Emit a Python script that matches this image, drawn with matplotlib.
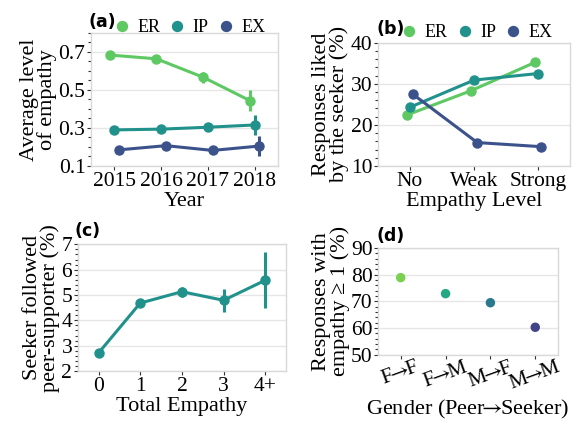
import matplotlib
matplotlib.use("Agg")
import matplotlib.pyplot as plt
import numpy as np
from matplotlib.ticker import AutoMinorLocator

# -------------------------------------------------
# Data
# -------------------------------------------------

years = ["2015", "2016", "2017", "2018"]
er_year = [0.684, 0.664, 0.567, 0.444]
er_year_err = [0.008, 0.01, 0.03, 0.055]
ip_year = [0.290, 0.294, 0.304, 0.316]
ip_year_err = [0.008, 0.01, 0.02, 0.052]
ex_year = [0.185, 0.207, 0.182, 0.205]
ex_year_err = [0.008, 0.01, 0.02, 0.052]

levels = ["No", "Weak", "Strong"]
er_liked = [22.4, 28.3, 35.2]
ip_liked = [24.3, 30.9, 32.5]
ex_liked = [27.4, 15.7, 14.7]

total_empathy = ["0", "1", "2", "3", "4+"]
followed = [2.71, 4.68, 5.13, 4.79, 5.58]
followed_err = [0.08, 0.1, 0.2, 0.45, 1.1]

ARROW = "$\\!\\!\\rightarrow\\!\\!$"
genders = ["F" + ARROW + "F", "F" + ARROW + "M", "M" + ARROW + "F", "M" + ARROW + "M"]
empathy_ge1 = [78.9, 72.9, 69.5, 60.3]

# viridis palettes (seaborn)
c_er, c_ip, c_ex = "#5ec962", "#21918c", "#3b528b"
gender_colors = ["#7ad151", "#22a884", "#2a788e", "#414487"]

plt.rcParams["font.family"] = ["Liberation Serif", "DejaVu Serif"]
plt.rcParams["mathtext.fontset"] = "stix"

TICK_FS = 15.5
LABEL_FS = 16
LW = 2.2
MS = 6.5


def style_axis(ax, minor=5):
    for side in ["top", "right", "left", "bottom"]:
        ax.spines[side].set_color("#d9d9d9")
        ax.spines[side].set_linewidth(1.0)
    ax.grid(True, axis="y", color="#e6e6e6", linewidth=1.0)
    ax.set_axisbelow(True)
    ax.yaxis.set_minor_locator(AutoMinorLocator(minor))
    ax.tick_params(axis="both", which="major", labelsize=TICK_FS, length=3,
                   width=0.8, color="#333333", pad=1)
    ax.tick_params(axis="y", which="minor", length=2, width=0.8, color="#333333")
    ax.tick_params(axis="x", which="minor", bottom=False)


def point_series(ax, xs, ys, errs, color, label=None):
    ax.plot(xs, ys, color=color, linewidth=LW, marker="o", markersize=MS,
            label=label, zorder=3)
    if errs is not None:
        ax.errorbar(xs, ys, yerr=errs, fmt="none", ecolor=color,
                    elinewidth=LW, capsize=0, zorder=3)


fig = plt.figure(figsize=(5.82, 4.24), dpi=100)

# -------------------------------------------------
# (a) Average level of empathy by year
# -------------------------------------------------

ax_a = fig.add_axes([0.1564, 0.6085, 0.3213, 0.3137])
xa = np.arange(len(years))
point_series(ax_a, xa - 0.1, er_year, er_year_err, c_er, "ER")
point_series(ax_a, xa, ip_year, ip_year_err, c_ip, "IP")
point_series(ax_a, xa + 0.1, ex_year, ex_year_err, c_ex, "EX")
ax_a.set_xlim(-0.5, 3.5)
ax_a.set_ylim(0.1, 0.8)
ax_a.set_yticks([0.1, 0.3, 0.5, 0.7])
ax_a.set_xticks(xa)
ax_a.set_xticklabels(years)
ax_a.set_xlabel("Year", fontsize=LABEL_FS, labelpad=1)
ax_a.set_ylabel("Average level\nof empathy", fontsize=LABEL_FS, labelpad=1,
                linespacing=0.9)
style_axis(ax_a, minor=4)

# -------------------------------------------------
# (b) Responses liked by the seeker
# -------------------------------------------------

ax_b = fig.add_axes([0.6495, 0.6085, 0.33, 0.2908])
xb = np.arange(len(levels))
point_series(ax_b, xb - 0.05, er_liked, None, c_er, "ER")
point_series(ax_b, xb, ip_liked, None, c_ip, "IP")
point_series(ax_b, xb + 0.05, ex_liked, None, c_ex, "EX")
ax_b.set_xlim(-0.5, 2.5)
ax_b.set_ylim(10, 40)
ax_b.set_yticks([10, 20, 30, 40])
ax_b.set_xticks(xb)
ax_b.set_xticklabels(levels)
ax_b.set_xlabel("Empathy Level", fontsize=LABEL_FS, labelpad=1)
ax_b.set_ylabel("Responses liked\nby the seeker (%)", fontsize=LABEL_FS,
                labelpad=1, linespacing=0.9)
style_axis(ax_b)

# -------------------------------------------------
# (c) Seeker followed peer-supporter
# -------------------------------------------------

ax_c = fig.add_axes([0.1335, 0.125, 0.358, 0.2988])
xc = np.arange(len(total_empathy))
point_series(ax_c, xc, followed, followed_err, c_ip)
ax_c.set_xlim(-0.5, 4.5)
ax_c.set_ylim(2, 7)
ax_c.set_yticks([2, 3, 4, 5, 6, 7])
ax_c.set_xticks(xc)
ax_c.set_xticklabels(total_empathy)
ax_c.set_xlabel("Total Empathy", fontsize=LABEL_FS, labelpad=1)
ax_c.set_ylabel("Seeker followed\npeer-supporter (%)", fontsize=LABEL_FS,
                labelpad=1, linespacing=0.9)
style_axis(ax_c)

# -------------------------------------------------
# (d) Gender
# -------------------------------------------------

ax_d = fig.add_axes([0.65, 0.1634, 0.3082, 0.2516])
xd = np.arange(len(genders))
ax_d.scatter(xd, empathy_ge1, c=gender_colors, s=MS ** 2 * 1.1, zorder=3,
             linewidths=0)
ax_d.set_xlim(-0.5, 3.5)
ax_d.set_ylim(50, 90)
ax_d.set_yticks([50, 60, 70, 80, 90])
ax_d.set_xticks(xd)
ax_d.set_xticklabels(genders, rotation=20, ha="center")
ax_d.set_xlabel("Gender (Peer" + ARROW + "Seeker)", fontsize=LABEL_FS,
                labelpad=3)
ax_d.set_ylabel("Responses with\nempathy ≥ 1 (%)", fontsize=LABEL_FS,
                labelpad=1, linespacing=0.9)
style_axis(ax_d)
ax_d.tick_params(axis="x", labelsize=15, pad=-1)

# -------------------------------------------------
# Legends and panel labels
# -------------------------------------------------

for ax, anchor in [(ax_a, (0.14, 1.04)), (ax_b, (0.14, 1.08))]:
    ax.legend(loc="center left", bbox_to_anchor=anchor, ncol=3,
              frameon=False, fontsize=13, handlelength=0.5,
              handletextpad=0.6, columnspacing=0.7, borderpad=0,
              borderaxespad=0, markerscale=1.1)
    for line in ax.get_legend().get_lines():
        line.set_linestyle("none")

panel_font = dict(family="DejaVu Sans", fontweight="bold", fontsize=12.5,
                  va="center", ha="left")
fig.text(89 / 582, 1 - 22 / 424, "(a)", **panel_font)
fig.text(376 / 582, 1 - 29 / 424, "(b)", **panel_font)
fig.text(74 / 582, 1 - 231 / 424, "(c)", **panel_font)
fig.text(376 / 582, 1 - 236 / 424, "(d)", **panel_font)

fig.savefig("out.png", dpi=100)
